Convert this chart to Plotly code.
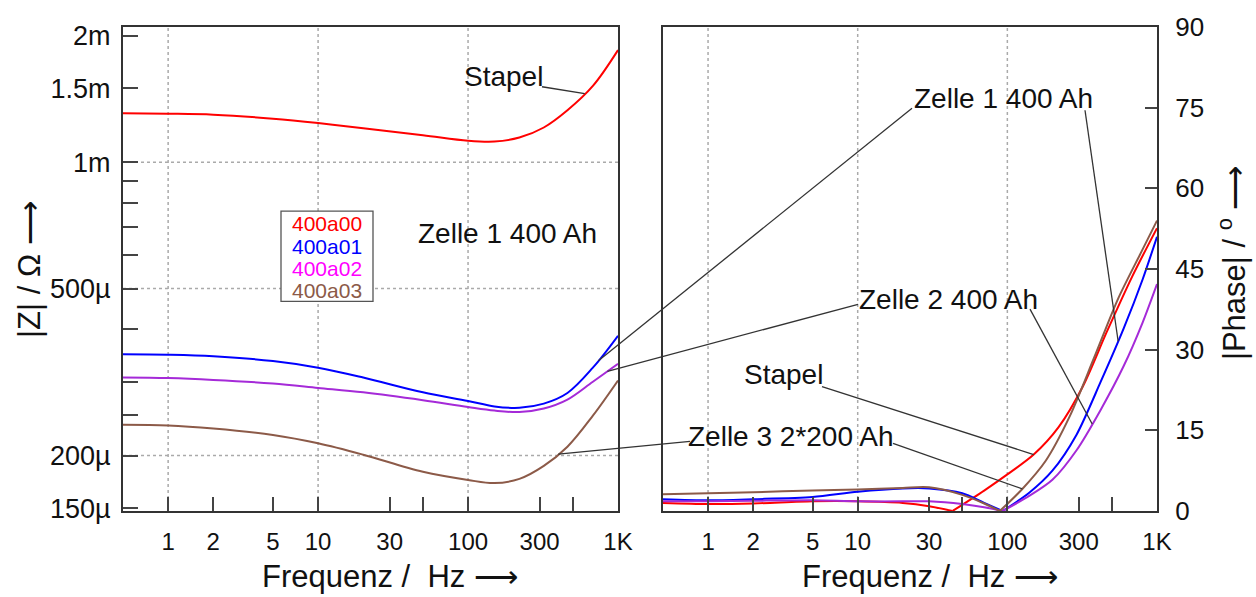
import numpy as np
import plotly.graph_objects as go

# ---------------- data ----------------
series_names = ["400a00", "400a01", "400a02", "400a03"]
series_labels = ["Stapel", "Zelle 1 400 Ah", "Zelle 2 400 Ah", "Zelle 3 2*200 Ah"]

freq_mag = [0.5, 1, 2, 5, 10, 20, 50, 100, 150, 220, 320, 460, 680, 1000]
mag_400a00 = [1.308e-3, 1.305e-3, 1.298e-3, 1.270e-3, 1.240e-3, 1.205e-3, 1.160e-3,
              1.125e-3, 1.120e-3, 1.145e-3, 1.210e-3, 1.330e-3, 1.520e-3, 1.850e-3]
mag_400a01 = [349e-6, 348e-6, 345e-6, 336e-6, 324e-6, 307e-6, 283e-6,
              270e-6, 262e-6, 260e-6, 266e-6, 282e-6, 324e-6, 386e-6]
mag_400a02 = [307e-6, 306e-6, 303e-6, 297e-6, 290e-6, 283e-6, 271e-6,
              261e-6, 256e-6, 254e-6, 259e-6, 272e-6, 300e-6, 331e-6]
mag_400a03 = [237e-6, 236e-6, 232e-6, 224e-6, 214e-6, 201e-6, 183e-6,
              175e-6, 172e-6, 176e-6, 189e-6, 210e-6, 249e-6, 302e-6]

freq_ph_400a00 = [0.5, 1, 2, 5, 10, 20, 30, 43, 70, 100, 150, 220, 320, 460, 680, 1000]
ph_400a00 = [1.5, 1.3, 1.4, 1.8, 1.8, 1.5, 0.9, 0.0, 3.8, 6.8, 10.5, 15.6, 23.2, 33.2, 43.5, 52.6]
freq_ph_400a01 = [0.5, 1, 2, 5, 10, 20, 30, 50, 70, 93, 140, 200, 290, 420, 600, 800, 1000]
ph_400a01 = [2.2, 2.0, 2.2, 2.6, 3.6, 4.2, 4.2, 3.3, 1.5, 0.0, 3.4, 7.5, 14.2, 24.0, 34.0, 43.0, 51.0]
freq_ph_400a02 = [0.5, 1, 2, 5, 10, 20, 30, 50, 70, 93, 140, 200, 290, 420, 600, 800, 1000]
ph_400a02 = [1.8, 1.8, 1.9, 2.0, 1.8, 1.8, 1.8, 1.3, 0.7, 0.0, 2.8, 5.8, 11.3, 18.8, 27.0, 35.0, 42.2]
freq_ph_400a03 = [0.5, 1, 2, 5, 10, 20, 30, 50, 70, 89, 125, 180, 260, 380, 550, 780, 1000]
ph_400a03 = [3.1, 3.3, 3.5, 3.8, 4.0, 4.3, 4.4, 3.0, 1.4, 0.0, 4.0, 9.3, 17.5, 28.5, 39.5, 48.0, 54.0]

x_tickvals = [1, 2, 5, 10, 30, 50, 100, 300, 500, 1000]
x_ticktext = ["1", "2", "5", "10", "30", "", "100", "300", "", "1K"]
y_tickvals = [150e-6, 200e-6, 250e-6, 300e-6, 400e-6, 500e-6, 600e-6, 700e-6, 800e-6, 900e-6,
              1e-3, 1.5e-3, 2e-3]
y_ticktext = ["150µ", "200µ", "", "", "", "500µ", "", "", "", "", "1m", "1.5m", "2m"]
ph_tickvals = [0, 15, 30, 45, 60, 75, 90]

# ---------------- styling ----------------
colors = ["#FF0000", "#0000FF", "#A52AD8", "#8C5A48"]
legend_colors = ["#FF0000", "#0000FF", "#FF00FF", "#8C5A48"]
FONT = "Liberation Sans, Arial, sans-serif"
W, H = 1256, 597
L, R, T, B = 123, 1157, 17, 511
XL_END = 618
XR_START = 663

def px(x):
    return (x - L) / (R - L)

def py(y):
    return (B - y) / (B - T)

dom_left = [0, px(XL_END)]
dom_right = [px(XR_START), 1]
xr = [np.log10(0.5), 3]
yr = [np.log10(1.476e-4), np.log10(2.1e-3)]

mags = [mag_400a00, mag_400a01, mag_400a02, mag_400a03]
phf = [freq_ph_400a00, freq_ph_400a01, freq_ph_400a02, freq_ph_400a03]
phs = [ph_400a00, ph_400a01, ph_400a02, ph_400a03]

fig = go.Figure()
for i, name in enumerate(series_names):
    fig.add_trace(go.Scatter(x=freq_mag, y=mags[i], mode="lines", name=name,
                             line=dict(color=colors[i], width=2, shape="spline"),
                             xaxis="x", yaxis="y", showlegend=False))
    f = np.array(phf[i]); p = np.array(phs[i])
    k = int(np.argmin(p))
    for sl in (slice(0, k + 1), slice(k, len(f))):
        fig.add_trace(go.Scatter(x=f[sl], y=p[sl], mode="lines", name=name,
                                 line=dict(color=colors[i], width=2, shape="spline", smoothing=0.8),
                                 xaxis="x2", yaxis="y2", showlegend=False))

axis_common = dict(type="log", range=xr, tickvals=x_tickvals, ticktext=x_ticktext,
                   ticks="inside", ticklen=14, tickwidth=1.5, tickcolor="#444",
                   showgrid=False, zeroline=False, showline=True, mirror=True,
                   linecolor="#333", linewidth=2,
                   tickfont=dict(family=FONT, size=24, color="#111"), ticklabelstandoff=8)

fig.update_layout(
    width=W, height=H, paper_bgcolor="white", plot_bgcolor="white",
    margin=dict(l=L, r=W - R, t=T, b=H - B),
    xaxis=dict(domain=dom_left, anchor="y", **axis_common),
    xaxis2=dict(domain=dom_right, anchor="y2", **axis_common),
    yaxis=dict(domain=[0, 1], anchor="x", type="log", range=yr, tickvals=y_tickvals,
               ticktext=y_ticktext, ticks="inside", ticklen=15, tickwidth=1.5, tickcolor="#444",
               showgrid=False, zeroline=False, showline=True, mirror=True,
               linecolor="#333", linewidth=2,
               tickfont=dict(family=FONT, size=27, color="#111"), ticklabelstandoff=5),
    yaxis2=dict(domain=[0, 1], anchor="x2", side="right", range=[0, 90], tickvals=ph_tickvals,
                ticks="inside", ticklen=12, tickwidth=1.5, tickcolor="#444",
                showgrid=False, zeroline=False, showline=True, mirror=True,
                linecolor="#333", linewidth=2,
                tickfont=dict(family=FONT, size=26, color="#111"), ticklabelstandoff=11),
    showlegend=False,
)

shapes = []
# dotted grid
for xa, ya in (("x", "y"), ("x2", "y2")):
    for gx in [1, 10, 100]:
        shapes.append(dict(type="line", xref=xa, yref=ya + " domain", x0=gx, x1=gx, y0=0, y1=1,
                           line=dict(color="#AAAAAA", width=1.5, dash="dot"), layer="below"))
for gy in [2e-4, 5e-4, 1e-3]:
    shapes.append(dict(type="line", xref="x domain", yref="y", x0=0, x1=1, y0=gy, y1=gy,
                       line=dict(color="#AAAAAA", width=1.5, dash="dot"), layer="below"))

def interp_mag(i, f):
    return 10 ** np.interp(np.log10(f), np.log10(freq_mag), np.log10(mags[i]))

def interp_ph(i, f):
    return np.interp(np.log10(f), np.log10(phf[i]), phs[i])

def left_paper(f, z):
    xp = dom_left[0] + (np.log10(f) - xr[0]) / (xr[1] - xr[0]) * (dom_left[1] - dom_left[0])
    yp = (np.log10(z) - yr[0]) / (yr[1] - yr[0])
    return xp, yp

def right_paper(f, p):
    xp = dom_right[0] + (np.log10(f) - xr[0]) / (xr[1] - xr[0]) * (dom_right[1] - dom_right[0])
    return xp, p / 90.0

def leader(start_px, end_xy):
    shapes.append(dict(type="line", xref="paper", yref="paper",
                       x0=px(start_px[0]), y0=py(start_px[1]), x1=end_xy[0], y1=end_xy[1],
                       line=dict(color="#333", width=1.3)))

# leader lines
leader((542, 78), left_paper(600, interp_mag(0, 600)))
leader((912, 100), left_paper(740, interp_mag(1, 740)))
leader((1085, 102), right_paper(550, interp_ph(1, 550)))
leader((858, 300), left_paper(850, interp_mag(2, 850)))
leader((1030, 305), right_paper(369, interp_ph(2, 369)))
leader((822, 384), right_paper(150, interp_ph(0, 150)))
leader((690, 440), left_paper(400, interp_mag(3, 400)))
leader((893, 442), right_paper(126, interp_ph(3, 126)))

# legend box
shapes.append(dict(type="rect", xref="paper", yref="paper", x0=px(281), x1=px(373),
                   y0=py(297), y1=py(205), line=dict(color="#555", width=1.3),
                   fillcolor="white"))
fig.update_layout(shapes=shapes)

ann = []
def text(t, cx, cy, size=28, color="#111", angle=0):
    ann.append(dict(text=t, x=px(cx), y=py(cy), xref="paper", yref="paper",
                    xanchor="center", yanchor="middle", showarrow=False, textangle=angle,
                    font=dict(family=FONT, size=size, color=color)))

for i, name in enumerate(series_names):
    text(name, 327, 218 + i * 22.7, size=21, color=legend_colors[i])

text(series_labels[0], 503, 68)
text(series_labels[1], 507, 228)
text(series_labels[1], 1003, 90)
text(series_labels[2], 948, 295)
text(series_labels[0], 783, 372)
text(series_labels[3], 791, 435)

text("Frequenz /  Hz ⟶", 390, 578, size=31)
text("Frequenz /  Hz ⟶", 930, 578, size=31)
text("|Z| / Ω ⟶", 30, 265, size=31, angle=-90)
text("|Phase| / <sup>o</sup> ⟶", 1232, 258, size=31, angle=-90)
fig.update_layout(annotations=ann)

fig.write_html("out.html")
